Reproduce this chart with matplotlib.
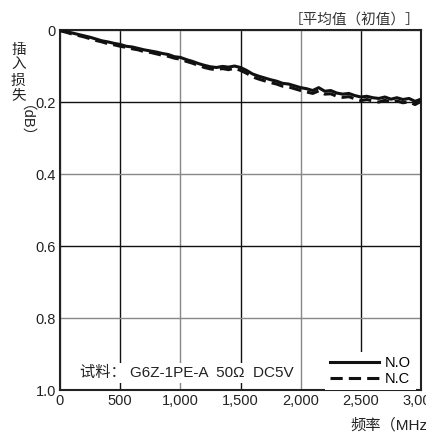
import numpy as np
import matplotlib
matplotlib.use("Agg")
import matplotlib.pyplot as plt

plt.rcParams['font.family'] = ['Liberation Sans', 'Noto Sans CJK SC', 'DejaVu Sans']

# frequency (MHz), insertion loss (dB)
freq = np.arange(0, 3001, 50)
loss_no = [0.000, 0.004, 0.008, 0.012, 0.016, 0.020, 0.025, 0.030, 0.033, 0.037,
           0.040, 0.045, 0.047, 0.051, 0.055, 0.058, 0.061, 0.065, 0.068, 0.074,
           0.076, 0.082, 0.087, 0.093, 0.098, 0.102, 0.104, 0.101, 0.103, 0.100,
           0.104, 0.112, 0.122, 0.128, 0.133, 0.138, 0.142, 0.148, 0.150, 0.155,
           0.160, 0.163, 0.168, 0.160, 0.170, 0.168, 0.175, 0.178, 0.176, 0.182,
           0.186, 0.184, 0.188, 0.190, 0.186, 0.192, 0.188, 0.193, 0.190, 0.198,
           0.192]
loss_nc = [0.002, 0.006, 0.011, 0.015, 0.019, 0.024, 0.029, 0.033, 0.038, 0.041,
           0.045, 0.048, 0.052, 0.055, 0.060, 0.062, 0.066, 0.070, 0.073, 0.078,
           0.081, 0.087, 0.092, 0.098, 0.104, 0.108, 0.110, 0.107, 0.110, 0.106,
           0.112, 0.120, 0.130, 0.136, 0.141, 0.146, 0.150, 0.156, 0.158, 0.163,
           0.168, 0.172, 0.176, 0.169, 0.178, 0.177, 0.184, 0.187, 0.185, 0.191,
           0.196, 0.193, 0.197, 0.200, 0.195, 0.201, 0.197, 0.202, 0.199, 0.207,
           0.198]
series_labels = ['N.O', 'N.C']
xticks = [0, 500, 1000, 1500, 2000, 2500, 3000]
xtick_labels = ['0', '500', '1,000', '1,500', '2,000', '2,500', '3,000']
yticks = [0, 0.2, 0.4, 0.6, 0.8, 1.0]
ytick_labels = ['0', '0.2', '0.4', '0.6', '0.8', '1.0']

fig = plt.figure(figsize=(4.27, 4.42), dpi=100)
ax = fig.add_axes([0.1405, 0.1176, 0.8455, 0.8144])

ax.plot(freq, loss_no, color='#111111', lw=2.2, label=series_labels[0], zorder=3)
ax.plot(freq, loss_nc, color='#111111', lw=2.2, dashes=(4, 2), label=series_labels[1], zorder=3)

ax.set_xlim(0, 3000)
ax.set_ylim(1.0, 0)
ax.set_xticks(xticks)
ax.set_xticklabels(xtick_labels)
ax.set_yticks(yticks)
ax.set_yticklabels(ytick_labels)
ax.tick_params(length=0, labelsize=10.5, colors='#222222', pad=3)
ax.grid(True, lw=1.0, zorder=1)
for i, g in enumerate(ax.get_xgridlines()):
    g.set_color('#111111' if i % 2 else '#888888')
for i, g in enumerate(ax.get_ygridlines()):
    g.set_color('#111111' if i % 2 else '#888888')
ax.set_axisbelow(True)
for s in ax.spines.values():
    s.set_linewidth(1.5)
    s.set_color('#222222')

leg = ax.legend(loc='lower right', bbox_to_anchor=(0.985, 0.0), fontsize=10.5,
                handlelength=3.4, handletextpad=0.4, labelspacing=0.1, borderpad=0.3,
                borderaxespad=0.0, frameon=True, fancybox=False, framealpha=1.0)
leg.get_frame().set_edgecolor('none')
leg.set_zorder(5)

ax.text(0.055, 0.028, '试料： G6Z-1PE-A  50Ω  DC5V', transform=ax.transAxes,
        fontsize=11, color='#222222', ha='left', va='bottom', zorder=5,
        bbox=dict(facecolor='white', edgecolor='none', pad=2))

fig.text(0.985, 0.955, '［平均值（初值）］', fontsize=10.5, color='#333333',
         ha='right', va='center', family=['Noto Sans CJK SC', 'DejaVu Sans'])
fig.text(0.82, 0.038, '频率（MHz）', fontsize=11, color='#222222', ha='left', va='center')

fig.text(0.043, 0.835, '插\n入\n损\n失', fontsize=10.5, color='#222222', ha='center',
         va='center', linespacing=1.1, family=['Noto Sans CJK SC', 'DejaVu Sans'])
fig.text(0.043, 0.71, '（dB）', fontsize=10.5, color='#222222', ha='center',
         va='center', rotation=270)

fig.savefig('out.png', dpi=100)
